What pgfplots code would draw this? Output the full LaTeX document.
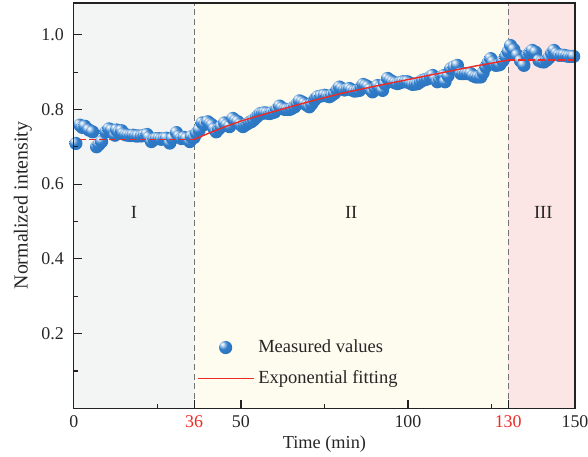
\documentclass[border=0pt]{standalone}
\usepackage{fontspec}
\setmainfont{Liberation Serif}
\usepackage{pgfplots}
\pgfplotsset{compat=1.18}
\definecolor{bgI}{HTML}{F3F5F5}
\definecolor{bgII}{HTML}{FEFCEF}
\definecolor{bgIII}{HTML}{FCE5E5}
\definecolor{ballblue}{HTML}{2F7CCA}
\definecolor{fitred}{HTML}{EE2A24}
\definecolor{axgray}{HTML}{222222}
\pgfdeclareradialshading{myball}{\pgfpoint{-14bp}{14bp}}{%
  color(0bp)=(white); color(6bp)=(ballblue!30!white); color(17bp)=(ballblue);
  color(45bp)=(ballblue!90!black); color(70bp)=(ballblue!70!black)}
\pgfdeclareplotmark{myball}{%
  \pgfinterruptboundingbox
  \pgfpathcircle{\pgfpointorigin}{\pgfplotmarksize}%
  \pgfshadepath{myball}{0}%
  \pgfusepath{}%
  \endpgfinterruptboundingbox
}
\pgfplotsset{
  ballleg/.style={legend image code/.code={%
    \path[draw=none, fill=none] (0bp,-3.3bp) rectangle (28bp,3.3bp);
    \path[draw=none, mark=myball, mark size=3.3bp] plot coordinates {(14bp,0)};}},
  lineleg/.style={legend image code/.code={\draw[draw=fitred, color=fitred, line width=0.7bp] (0bp,0) -- (28bp,0);}},
}
\pgfplotstableread{
x y
0.6 0.709
1.8 0.758
2.5 0.752
3.3 0.755
4.5 0.745
5.6 0.740
6.8 0.700
7.5 0.706
8.3 0.714
9.6 0.740
10.5 0.748
11.3 0.745
12.3 0.731
12.8 0.745
13.5 0.740
14.3 0.743
14.8 0.735
15.5 0.732
16.2 0.731
17.0 0.730
17.7 0.731
18.5 0.729
19.2 0.729
20.2 0.729
21.0 0.731
21.9 0.733
22.5 0.725
23.2 0.714
24.0 0.720
24.7 0.722
25.5 0.722
26.2 0.720
27.0 0.722
27.7 0.723
28.7 0.710
29.5 0.722
30.7 0.738
31.5 0.728
32.2 0.722
33.0 0.725
33.7 0.722
34.7 0.714
35.2 0.727
36.0 0.725
36.7 0.736
37.5 0.745
38.4 0.764
39.2 0.760
40.1 0.767
40.8 0.762
41.4 0.758
42.0 0.748
42.6 0.740
43.4 0.748
44.1 0.754
45.1 0.764
45.8 0.758
46.6 0.754
47.6 0.776
48.4 0.770
49.1 0.767
49.8 0.760
50.6 0.754
51.2 0.758
51.8 0.761
52.5 0.765
53.1 0.767
53.8 0.772
54.6 0.779
55.2 0.784
55.8 0.789
56.5 0.790
57.1 0.791
57.8 0.790
58.6 0.789
59.3 0.791
60.1 0.793
60.8 0.800
61.6 0.809
62.3 0.804
63.1 0.800
63.8 0.800
64.6 0.800
65.3 0.803
66.1 0.807
66.8 0.815
67.5 0.823
68.3 0.820
69.0 0.816
69.8 0.811
70.5 0.807
71.2 0.815
72.0 0.825
72.5 0.830
73.0 0.834
74.0 0.836
75.0 0.838
75.8 0.836
76.5 0.834
77.2 0.838
78.0 0.843
78.8 0.852
79.5 0.860
80.2 0.856
81.0 0.852
81.8 0.854
82.5 0.856
83.2 0.852
84.0 0.849
84.8 0.850
85.5 0.851
86.0 0.860
86.6 0.867
87.3 0.864
88.0 0.861
88.7 0.854
89.4 0.847
90.2 0.856
90.9 0.864
91.7 0.858
92.4 0.851
93.1 0.868
93.9 0.883
94.7 0.878
95.4 0.874
96.2 0.871
96.9 0.869
97.7 0.872
98.4 0.874
99.2 0.874
99.9 0.874
100.7 0.870
101.4 0.867
102.2 0.868
102.9 0.869
103.7 0.874
104.4 0.878
105.2 0.880
105.9 0.882
106.7 0.887
107.4 0.891
108.1 0.883
108.8 0.874
109.5 0.880
110.2 0.888
110.8 0.891
111.1 0.874
112.0 0.890
112.8 0.909
113.8 0.914
114.8 0.918
115.8 0.896
116.5 0.896
117.3 0.896
118.0 0.896
118.8 0.896
119.5 0.890
120.3 0.887
121.0 0.887
121.8 0.887
122.5 0.898
123.3 0.914
124.0 0.925
124.8 0.936
125.5 0.927
126.3 0.918
127.0 0.919
127.5 0.920
128.4 0.930
129.3 0.942
130.0 0.955
130.7 0.971
131.7 0.960
132.7 0.945
133.7 0.930
134.7 0.918
135.7 0.945
136.5 0.952
137.2 0.958
138.2 0.953
139.2 0.931
140.0 0.928
140.7 0.927
141.5 0.932
142.2 0.938
143.0 0.950
143.7 0.958
144.5 0.950
145.2 0.945
146.0 0.945
146.7 0.945
147.5 0.943
148.2 0.942
149.0 0.942
149.6 0.942
}\measured
\pgfplotstableread{
x y
36 0.720
40 0.735
45 0.753
50 0.769
60 0.795
70 0.820
80 0.843
90 0.862
100 0.880
110 0.898
120 0.916
130 0.932
}\fitII
\begin{document}
\begin{tikzpicture}[font=\fontsize{9.3}{11}\selectfont]
\begin{axis}[
  scale only axis, width=251bp, height=203bp,
  xmin=0, xmax=150, ymin=0, ymax=1.085,
  axis on top,
  xtick={0,36,50,100,130,150},
  xticklabels={0,\textcolor{fitred}{36},50,100,\textcolor{fitred}{130},150},
  minor xtick={25,75,125},
  ytick={0.2,0.4,0.6,0.8,1.0},
  minor ytick={0.1,0.3,0.5,0.7,0.9},
  yticklabel style={xshift=-1.5bp, /pgf/number format/.cd,fixed,fixed zerofill,precision=1},
  /pgf/number format/assume math mode=true,
  tick align=inside, tick pos=left,
  major tick length=4bp, minor tick length=2bp,
  axis line style={line width=0.6bp, axgray},
  every tick/.style={line width=0.6bp, axgray},
  xlabel={Time (min)}, ylabel={Normalized intensity},
  xlabel style={yshift=2.5bp, font=\fontsize{9.2}{11}\selectfont},
  ylabel style={yshift=-2bp, font=\fontsize{10}{12}\selectfont},
  tick label style={text=black!85, font=\fontsize{9}{11}\selectfont},
  label style={text=black!85},
  clip mode=individual,
  legend style={at={(0.233,0.19)}, anchor=north west, draw=none, fill=none,
    row sep=3.5bp, font=\fontsize{9.3}{11}\selectfont, text=black!85},
  legend cell align=left,
]
\addplot[fill=bgI, draw=none, forget plot] coordinates {(0,0) (0,1.085) (36,1.085) (36,0)} -- cycle;
\addplot[fill=bgII, draw=none, forget plot] coordinates {(36,0) (36,1.085) (130,1.085) (130,0)} -- cycle;
\addplot[fill=bgIII, draw=none, forget plot] coordinates {(130,0) (130,1.085) (150,1.085) (150,0)} -- cycle;
\addplot[black!55, line width=0.6bp, dash pattern=on 3bp off 1.8bp, forget plot] coordinates {(36,0) (36,1.085)};
\addplot[black!55, line width=0.6bp, dash pattern=on 3bp off 1.8bp, forget plot] coordinates {(130,0) (130,1.085)};
\addplot[only marks, mark=myball, mark size=3.3bp, ballleg]
  table[x=x,y=y] {\measured};
\addlegendentry{Measured values}
\addplot[fitred, line width=0.7bp, mark=none, lineleg] table[x=x,y=y] {\fitII};
\addlegendentry{Exponential fitting}
\addplot[fitred, line width=0.7bp, dash pattern=on 3.5bp off 1.5bp, forget plot] coordinates {(1.5,0.72) (36,0.72)};
\addplot[fitred, line width=0.7bp, dash pattern=on 3.5bp off 1.5bp, forget plot] coordinates {(130,0.932) (150,0.932)};
\node[text=black!85] at (axis cs:18,0.525) {I};
\node[text=black!85] at (axis cs:83,0.525) {II};
\node[text=black!85] at (axis cs:140.5,0.525) {III};
\coordinate (SW) at (rel axis cs:0,0);
\coordinate (NE) at (rel axis cs:1,1);
\end{axis}
\pgfresetboundingbox
\useasboundingbox ([xshift=-37bp,yshift=-24bp]SW) rectangle ([xshift=6.5bp,yshift=1.5bp]NE);
\end{tikzpicture}
\end{document}
